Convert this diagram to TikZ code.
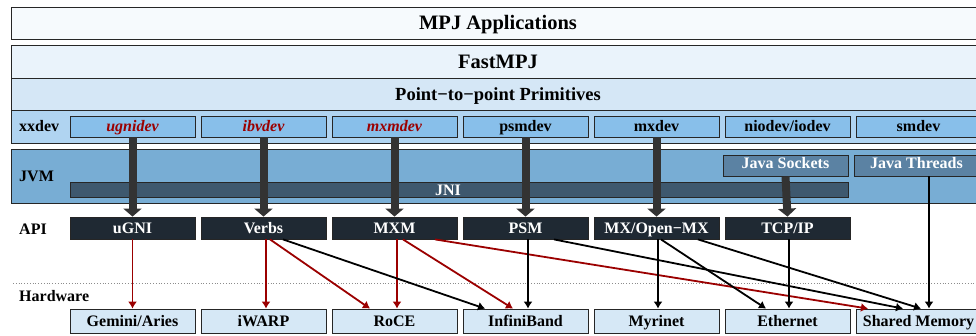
\documentclass[tikz,border=0pt]{standalone}
\usepackage{fontspec}
\setmainfont{Liberation Serif}
\usetikzlibrary{arrows.meta}
\definecolor{appsfill}{HTML}{F6FAFD}
\definecolor{fastfill}{HTML}{EAF3FB}
\definecolor{ptpfill}{HTML}{D5E7F6}
\definecolor{devband}{HTML}{B0D4F1}
\definecolor{devfill}{HTML}{88BFEA}
\definecolor{jvmfill}{HTML}{78ADD4}
\definecolor{jnifill}{HTML}{3E586E}
\definecolor{javafill}{HTML}{5B82A3}
\definecolor{apifill}{HTML}{1F2933}
\definecolor{hwfill}{HTML}{D6E8F6}
\definecolor{nativered}{HTML}{9B0000}
\definecolor{bigarrow}{HTML}{333333}
\begin{document}
\begin{tikzpicture}[x=1pt,y=-1pt,
    capcentered/.style={text height=#1, text depth=0pt},
    band/.style={draw=black!85, line width=1pt, inner sep=0pt, minimum width=974pt},
    cell/.style={draw=black!85, line width=0.8pt, inner sep=0pt, minimum width=125pt,
      font=\bfseries\fontsize{16}{16}\selectfont, capcentered=10.6pt},
    devbox/.style={cell, fill=devfill, minimum height=21pt},
    native/.style={text=nativered, font=\bfseries\itshape\fontsize{16}{16}\selectfont},
    javabox/.style={cell, fill=javafill, text=white, minimum height=21pt},
    apibox/.style={cell, fill=apifill, text=white, minimum height=22pt},
    hwbox/.style={cell, fill=hwfill, minimum height=24pt},
    rowlabel/.style={anchor=west, inner sep=0pt, capcentered=10.6pt, font=\bfseries\fontsize{16}{16}\selectfont},
    bigflow/.style={draw=bigarrow, line width=8pt, -{Triangle[width=18pt,length=8pt]}},
    flow/.style={line width=1.8pt, -{Latex[length=7pt,width=9pt]}},
    redflow/.style={flow, draw=nativered}
  ]
  \useasboundingbox (0,0) rectangle (976,335);
  \clip (0,0) rectangle (976,335);
  % upper layers
  \node[band, fill=appsfill, minimum height=32pt, capcentered=13.5pt, font=\bfseries\fontsize{20.5}{20.5}\selectfont] (apps) at (498,23) {MPJ Applications};
  \node[band, fill=fastfill, minimum height=33pt, capcentered=13.5pt, font=\bfseries\fontsize{20.5}{20.5}\selectfont] (fast) at (498,61.5) {FastMPJ};
  \node[band, fill=ptpfill, minimum height=32pt, capcentered=12.2pt, font=\bfseries\fontsize{18.5}{18.5}\selectfont] (ptp) at (498,94.5) {Point−to−point Primitives};
  \node[band, fill=devband, minimum height=33pt] (devrow) at (498,126.5) {};
  \node[band, fill=jvmfill, minimum height=54pt] (jvm) at (498,176) {};
  % row labels
  \node[rowlabel] (devlabel) at (19,126.5) {xxdev};
  \node[rowlabel] (jvmlabel) at (19,176.5) {JVM};
  \node[rowlabel] (apilabel) at (19,229) {API};
  \node[rowlabel] (hwlabel) at (19,296) {Hardware};
  % xxdev devices
  \node[devbox, native] (ugnidev) at (132.5,126.5) {ugnidev};
  \node[devbox, native] (ibvdev) at (263.5,126.5) {ibvdev};
  \node[devbox, native] (mxmdev) at (394.5,126.5) {mxmdev};
  \node[devbox] (psmdev) at (525.5,126.5) {psmdev};
  \node[devbox] (mxdev) at (656.5,126.5) {mxdev};
  \node[devbox] (niodev) at (787.5,126.5) {niodev/iodev};
  \node[devbox] (smdev) at (918.5,126.5) {smdev};
  % JVM contents
  \node[draw=black!85, line width=0.8pt, fill=jnifill, minimum width=778pt, minimum height=15pt, inner sep=0pt] (jni) at (459,189.5) {};
  \node[text=white, inner sep=0pt, capcentered=10.6pt, font=\bfseries\fontsize{16}{16}\selectfont] (jnilabel) at (448,190) {JNI};
  \node[javabox] (sockets) at (785.5,165.5) {\raisebox{2pt}{Java Sockets}};
  \node[javabox] (threads) at (916.5,165.5) {\raisebox{2pt}{Java Threads}};
  % API
  \node[apibox] (ugni) at (132.5,228) {uGNI};
  \node[apibox] (verbs) at (263.5,228) {Verbs};
  \node[apibox] (mxm) at (394.5,228) {MXM};
  \node[apibox] (psm) at (525.5,228) {PSM};
  \node[apibox] (mx) at (656.5,228) {MX/Open−MX};
  \node[apibox] (tcp) at (787.5,228) {TCP/IP};
  % hardware
  \draw[black!45, dotted, line width=0.8pt] (13,283) -- (976,283);
  \node[hwbox] (gemini) at (132.5,321) {Gemini/Aries};
  \node[hwbox] (iwarp) at (263.5,321) {iWARP};
  \node[hwbox] (roce) at (394.5,321) {RoCE};
  \node[hwbox] (ib) at (525.5,321) {InfiniBand};
  \node[hwbox] (myrinet) at (656.5,321) {Myrinet};
  \node[hwbox] (ethernet) at (787.5,321) {Ethernet};
  \node[hwbox] (shmem) at (918.5,321) {Shared Memory};
  % devices down to the APIs
  \draw[bigflow] (ugnidev.south) -- (ugni.north);
  \draw[bigflow] (ibvdev.south) -- (verbs.north);
  \draw[bigflow] (mxmdev.south) -- (mxm.north);
  \draw[bigflow] (psmdev.south) -- (psm.north);
  \draw[bigflow] (mxdev.south) -- (mx.north);
  \draw[bigflow] (sockets.south) -- (tcp.north);
  % APIs down to the hardware
  \draw[redflow] (ugni.south) -- (gemini.north);
  \draw[redflow] ([xshift=2.5pt]verbs.south) -- ([xshift=2.5pt]iwarp.north);
  \draw[redflow] ([xshift=6.5pt]verbs.south) -- ([xshift=-24.5pt]roce.north);
  \draw[redflow] ([xshift=2.5pt]mxm.south) -- ([xshift=2.5pt]roce.north);
  \draw[redflow] ([xshift=8.5pt]mxm.south) -- ([xshift=-12.5pt]ib.north);
  \draw[redflow] ([xshift=40.5pt]mxm.south) -- ([xshift=-50.5pt]shmem.north);
  \draw[flow] ([xshift=19.5pt]verbs.south) -- ([xshift=-40.5pt]ib.north);
  \draw[flow] ([xshift=2.5pt]psm.south) -- ([xshift=2.5pt]ib.north);
  \draw[flow] ([xshift=28.5pt]psm.south) -- ([xshift=-15.5pt]shmem.north);
  \draw[flow] ([xshift=1.5pt]mx.south) -- ([xshift=1.5pt]myrinet.north);
  \draw[flow] ([xshift=4.5pt]mx.south) -- ([xshift=-21.5pt]ethernet.north);
  \draw[flow] ([xshift=41.5pt]mx.south) -- ([xshift=2.5pt]shmem.north);
  \draw[flow] ([xshift=1.5pt]tcp.south) -- ([xshift=1.5pt]ethernet.north);
  \draw[flow] ([xshift=12.5pt]threads.south) -- ([xshift=10.5pt]shmem.north);
\end{tikzpicture}
\end{document}
